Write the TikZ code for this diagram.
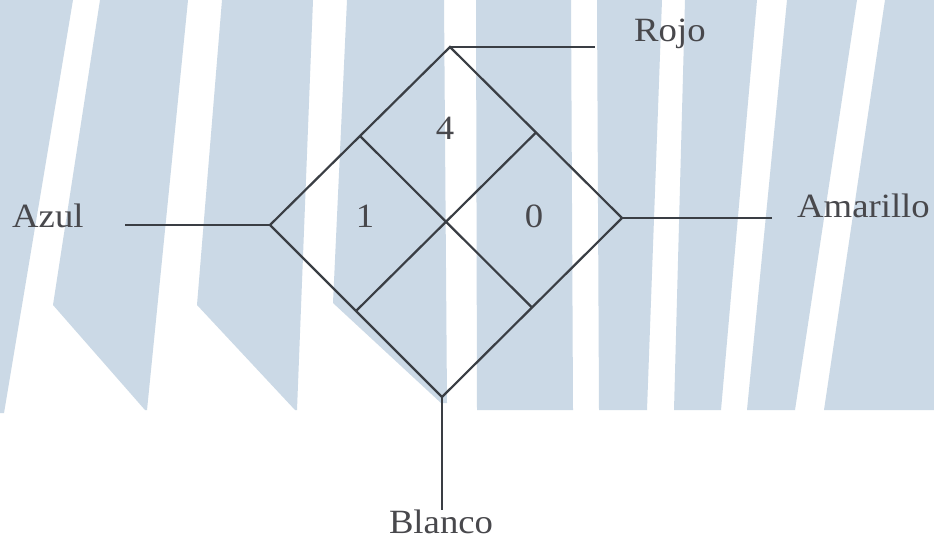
\documentclass[tikz,border=0pt]{standalone}
\usepackage{fontspec}
\setmainfont{Liberation Serif}[FakeStretch=1.08]
\usetikzlibrary{calc}
\definecolor{wmblue}{RGB}{203,217,230}
\definecolor{linegray}{RGB}{58,62,68}
\definecolor{textgray}{RGB}{72,72,76}
\begin{document}
\begin{tikzpicture}[x=1pt,y=-1pt,
  wm/.style={fill=wmblue,draw=none},
  edgeline/.style={draw=linegray,line width=2.2pt,line join=miter},
  lbl/.style={inner sep=0pt,font=\fontsize{34}{38}\selectfont,text=textgray},
]
\useasboundingbox (0,0) rectangle (934,540);
\fill[white] (0,0) rectangle (934,540);
% watermark stripes
\fill[wm] (0,0)--(73,0)--(4,413)--(0,413)--cycle;
\fill[wm] (100,0)--(188,0)--(147,410)--(145,410)--(53,305)--cycle;
\fill[wm] (222,0)--(313,0)--(297,410)--(295,410)--(197,305)--cycle;
\fill[wm] (347,0)--(444,0)--(447,403)--(441,403)--(333,303)--cycle;
\fill[wm] (476,0)--(571,0)--(573,410)--(477,410)--cycle;
\fill[wm] (597,0)--(662,0)--(647,410)--(599,410)--cycle;
\fill[wm] (685,0)--(757,0)--(721,410)--(674,410)--cycle;
\fill[wm] (787,0)--(857,0)--(795,410)--(747,410)--cycle;
\fill[wm] (885,0)--(934,0)--(934,410)--(824,410)--cycle;
% diamond
\coordinate (T) at (450,47);
\coordinate (L) at (270,225);
\coordinate (R) at (622,218);
\coordinate (B) at (442,397);
\coordinate (UL) at ($(T)!0.5!(L)$);
\coordinate (UR) at ($(T)!0.5!(R)$);
\coordinate (LL) at ($(L)!0.5!(B)$);
\coordinate (LR) at ($(R)!0.5!(B)$);
\draw[edgeline] (T)--(R)--(B)--(L)--cycle;
\draw[edgeline] (UL)--(LR);
\draw[edgeline] (UR)--(LL);
% connectors
\coordinate (rojoend) at (595,47);
\coordinate (azulend) at (125,225);
\coordinate (amaend) at (772,218);
\coordinate (blancoend) at (442,510);
\draw[edgeline] (T)--(rojoend);
\draw[edgeline] (L)--(azulend);
\draw[edgeline] (R)--(amaend);
\draw[edgeline] (B)--(blancoend);
% labels
\node[lbl,anchor=base west] (rojo) at (634,42) {Rojo};
\node[lbl,anchor=base west] (azul) at (12,228) {Azul};
\node[lbl,anchor=base west] (amarillo) at (797,218) {Amarillo};
\node[lbl,anchor=base] (blanco) at (441,533) {Blanco};
\node[lbl,anchor=base] (n4) at (445,140) {4};
\node[lbl,anchor=base] (n1) at (365,228) {1};
\node[lbl,anchor=base] (n0) at (534,227) {0};
\end{tikzpicture}
\end{document}
